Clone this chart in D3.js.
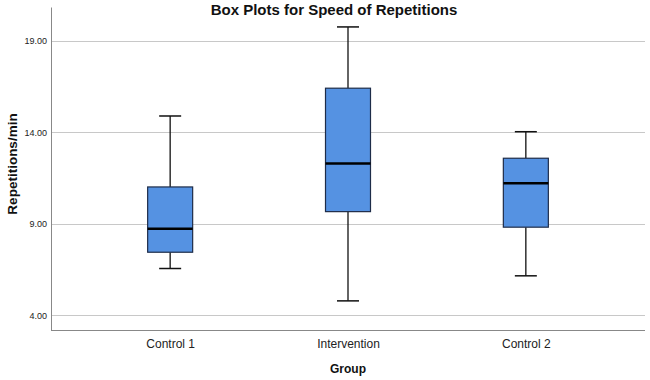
<!DOCTYPE html>
<html lang="en">
<head>
    <meta charset="UTF-8">
    <title>Box Plots for Speed of Repetitions</title>
    <script src="https://d3js.org/d3.v7.min.js"></script>
    <style>
        body { margin: 0; background: #fff; }
        text { font-family: Arial, "Liberation Sans", sans-serif; }
    </style>
</head>
<body>

    <svg width="650" height="380"></svg>

<script>

    // data
    var groups = ['Control 1', 'Intervention', 'Control 2'];
    var whiskerLow  = [6.56, 4.79, 6.16];
    var q1          = [7.45, 9.67, 8.82];
    var median      = [8.74, 12.30, 11.22];
    var q3          = [11.02, 16.42, 12.59];
    var whiskerHigh = [14.90, 19.77, 14.04];
    var yTicks = [4, 9, 14, 19];

    var svg = d3.select('svg');
    // plot edges (not "top": that name is taken by window.top)
    var plotLeft = 51, plotRight = 645, plotTop = 7, plotBottom = 330.5;

    var x = d3.scalePoint().domain(groups).range([plotLeft, plotRight]).padding(0.67);
    var y = d3.scaleLinear().domain([3.17, 20.86]).range([plotBottom, plotTop]);

    var boxW = 45, capW = 22;

    // gridlines
    svg.append('g').selectAll('line').data(yTicks).enter().append('line')
        .attr('x1', plotLeft).attr('x2', plotRight)
        .attr('y1', function (d) { return Math.round(y(d)) + 0.5; })
        .attr('y2', function (d) { return Math.round(y(d)) + 0.5; })
        .attr('stroke', '#c8c8c8').attr('stroke-width', 1);

    // y axis
    var axisY = d3.axisLeft(y).tickValues(yTicks).tickSize(0).tickPadding(4)
        .tickFormat(d3.format('.2f'));
    var gy = svg.append('g').attr('transform', 'translate(' + plotLeft + ',0)').call(axisY);
    gy.select('.domain').attr('stroke', '#888');
    gy.selectAll('text').attr('font-size', 9).attr('fill', '#222')
        .attr('font-family', 'Arial, "Liberation Sans", sans-serif');

    // x axis
    var axisX = d3.axisBottom(x).tickSize(0).tickPadding(9);
    var gx = svg.append('g').attr('transform', 'translate(0,' + plotBottom + ')').call(axisX);
    gx.select('.domain').attr('stroke', '#888').attr('d', 'M' + plotLeft + ',0H' + plotRight);
    gx.selectAll('text').attr('font-size', 12).attr('fill', '#222')
        .attr('font-family', 'Arial, "Liberation Sans", sans-serif');

    // boxes
    var gs = svg.append('g').selectAll('g').data(groups).enter().append('g');

    gs.append('line')
        .attr('x1', function (d) { return x(d); })
        .attr('x2', function (d) { return x(d); })
        .attr('y1', function (d, i) { return y(whiskerHigh[i]); })
        .attr('y2', function (d, i) { return y(q3[i]); })
        .attr('stroke', '#111').attr('stroke-width', 1.3);
    gs.append('line')
        .attr('x1', function (d) { return x(d); })
        .attr('x2', function (d) { return x(d); })
        .attr('y1', function (d, i) { return y(q1[i]); })
        .attr('y2', function (d, i) { return y(whiskerLow[i]); })
        .attr('stroke', '#111').attr('stroke-width', 1.3);

    // whisker caps
    gs.append('line')
        .attr('x1', function (d) { return x(d) - capW / 2; })
        .attr('x2', function (d) { return x(d) + capW / 2; })
        .attr('y1', function (d, i) { return y(whiskerHigh[i]); })
        .attr('y2', function (d, i) { return y(whiskerHigh[i]); })
        .attr('stroke', '#111').attr('stroke-width', 1.5);
    gs.append('line')
        .attr('x1', function (d) { return x(d) - capW / 2; })
        .attr('x2', function (d) { return x(d) + capW / 2; })
        .attr('y1', function (d, i) { return y(whiskerLow[i]); })
        .attr('y2', function (d, i) { return y(whiskerLow[i]); })
        .attr('stroke', '#111').attr('stroke-width', 1.5);

    gs.append('rect')
        .attr('x', function (d) { return x(d) - boxW / 2; })
        .attr('y', function (d, i) { return y(q3[i]); })
        .attr('width', boxW)
        .attr('height', function (d, i) { return y(q1[i]) - y(q3[i]); })
        .attr('fill', '#5592e2')
        .attr('stroke', '#1e2c48').attr('stroke-width', 1.2);

    gs.append('line')
        .attr('x1', function (d) { return x(d) - boxW / 2; })
        .attr('x2', function (d) { return x(d) + boxW / 2; })
        .attr('y1', function (d, i) { return y(median[i]); })
        .attr('y2', function (d, i) { return y(median[i]); })
        .attr('stroke', '#000').attr('stroke-width', 2.5);

    // titles
    svg.append('text').attr('x', 334).attr('y', 15).attr('text-anchor', 'middle')
        .attr('font-size', 15).attr('font-weight', 'bold').attr('fill', '#111')
        .text('Box Plots for Speed of Repetitions');

    svg.append('text').attr('x', 348).attr('y', 373).attr('text-anchor', 'middle')
        .attr('font-size', 12).attr('font-weight', 'bold').attr('fill', '#111')
        .text('Group');

    svg.append('text').attr('transform', 'translate(17,164) rotate(-90)')
        .attr('text-anchor', 'middle')
        .attr('font-size', 13.5).attr('font-weight', 'bold').attr('fill', '#111')
        .text('Repetitions/min');

</script>
</body>
</html>
